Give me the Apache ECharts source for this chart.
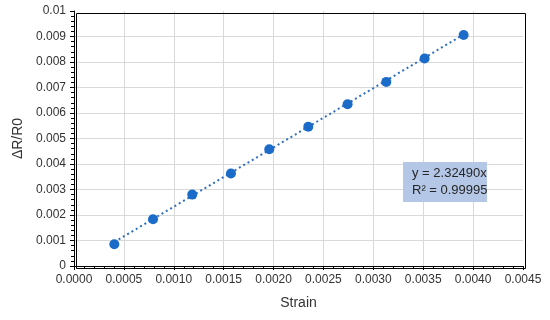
<!DOCTYPE html>
<html>
<head>
<meta charset="utf-8">
<script src="https://cdn.jsdelivr.net/npm/echarts@6/dist/echarts.min.js"></script>
<style>html,body{margin:0;padding:0;background:#fff}#c{width:550px;height:320px}</style>
</head>
<body>
<div id="c"></div>
<script>
var strain = [0.000404, 0.000792, 0.001185, 0.001573, 0.001957, 0.002348, 0.002742, 0.003130, 0.003514, 0.003905];
var dR = [0.00085, 0.00183, 0.00280, 0.00363, 0.00458, 0.00546, 0.00634, 0.00722, 0.00814, 0.00906];
var slope = 2.32490;
var rSquared = '0.99995';
var xTitle = 'Strain';
var yTitle = 'ΔR/R0';

var points = strain.map(function (x, i) { return [x, dR[i]]; });
var xMin = Math.min.apply(null, strain), xMax = Math.max.apply(null, strain);
var trend = [[xMin, slope * xMin], [xMax, slope * xMax]];

var font = 'Liberation Sans, Arial, sans-serif';
var chart = echarts.init(document.getElementById('c'));
chart.setOption({
  animation: false,
  grid: { left: 74, right: 27, top: 11, bottom: 54, show: false },
  xAxis: {
    type: 'value', min: 0, max: 0.0045, interval: 0.0005,
    name: xTitle, nameLocation: 'middle', nameGap: 30,
    nameTextStyle: { fontFamily: font, fontSize: 14, color: '#333' },
    axisLine: { lineStyle: { color: '#000', width: 1 } },
    axisTick: { show: true, length: 4, lineStyle: { color: '#000' } },
    minorTick: { show: true, splitNumber: 5, length: 3, lineStyle: { color: '#000' } },
    axisLabel: { fontFamily: font, fontSize: 12, color: '#333', margin: 8,
      formatter: function (v) { return v.toFixed(4); } },
    splitLine: { show: true, showMinLine: false, showMaxLine: false, lineStyle: { color: '#d9d9d9', width: 1 } }
  },
  yAxis: {
    type: 'value', min: 0, max: 0.01, interval: 0.001,
    name: yTitle, nameLocation: 'middle', nameGap: 46,
    nameTextStyle: { fontFamily: font, fontSize: 14, color: '#333' },
    axisLine: { show: true, lineStyle: { color: '#000', width: 1 } },
    axisTick: { show: true, length: 4, lineStyle: { color: '#000' } },
    minorTick: { show: true, splitNumber: 5, length: 3, lineStyle: { color: '#000' } },
    axisLabel: { fontFamily: font, fontSize: 12, color: '#333', margin: 8,
      formatter: function (v) { return String(parseFloat(v.toFixed(3))); } },
    splitLine: { show: true, showMinLine: false, showMaxLine: false, lineStyle: { color: '#d9d9d9', width: 1 } }
  },
  series: [
    {
      type: 'line', data: trend, symbol: 'none', z: 2,
      lineStyle: { color: '#2e6fbf', width: 2, type: [2, 3] }
    },
    {
      type: 'scatter', data: points, symbol: 'circle', symbolSize: 10, z: 3,
      itemStyle: { color: '#1a6cc8', opacity: 1 }
    }
  ],
  graphic: [
    { type: 'rect', z: 50, silent: true, left: 74, top: 11,
      shape: { x: 0.5, y: 0.5, width: 449, height: 255 },
      style: { fill: 'none', stroke: '#000', lineWidth: 1 } },
    { type: 'group', left: 403, top: 162, z: 100,
      children: [
        { type: 'rect', z: 100, shape: { x: 0, y: 0, width: 84, height: 40 }, style: { fill: '#b4c7e7' } },
        { type: 'text', z: 101, left: 9, top: 3, style: { text: 'y = ' + slope.toFixed(5) + 'x\nR² = ' + rSquared,
          fontFamily: font, fontSize: 13, lineHeight: 17, fill: '#262626' } }
      ]
    }
  ]
});
</script>
</body>
</html>
